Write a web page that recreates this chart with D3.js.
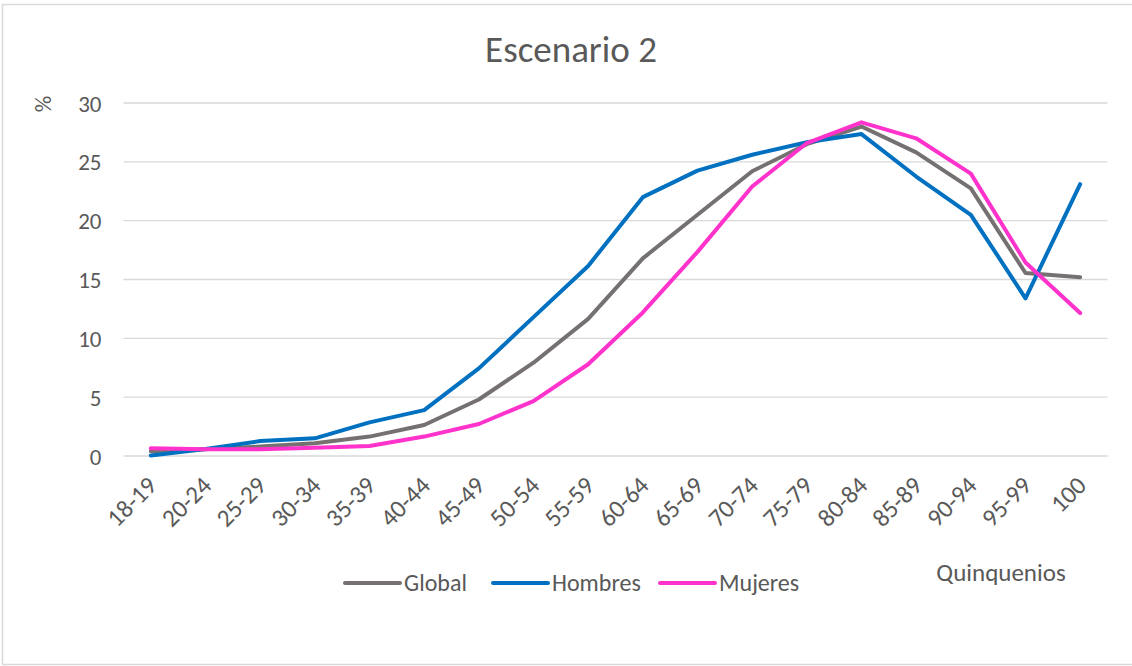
<!DOCTYPE html>
<html>
<head>
<meta charset="utf-8">
<script src="https://cdn.jsdelivr.net/npm/d3@7"></script>
<style>
  html, body { margin: 0; padding: 0; background: #fff; }
  svg text { font-family: Carlito, Calibri, Lato, "Open Sans", sans-serif; fill: #595959; }
</style>
</head>
<body>
<svg id="chart" width="1132" height="666"></svg>
<script>
// Age groups (quinquenios)
const categories = ["18-19","20-24","25-29","30-34","35-39","40-44","45-49","50-54","55-59",
  "60-64","65-69","70-74","75-79","80-84","85-89","90-94","95-99","100"];

// Percentages by group
const globalValues  = [0.4, 0.57, 0.8, 1.08, 1.65, 2.63, 4.8, 7.93, 11.65, 16.8, 20.5, 24.2, 26.5, 28.0, 25.8, 22.75, 15.55, 15.2];
const hombresValues = [0.05, 0.6, 1.27, 1.5, 2.86, 3.9, 7.45, 11.8, 16.15, 22.0, 24.25, 25.6, 26.66, 27.36, 23.75, 20.5, 13.4, 23.1];
const mujeresValues = [0.65, 0.57, 0.57, 0.71, 0.85, 1.65, 2.72, 4.67, 7.8, 12.2, 17.35, 22.9, 26.6, 28.36, 27.0, 24.0, 16.45, 12.15];

const yTicks = [0, 5, 10, 15, 20, 25, 30];

const series = [
  { name: "Global",  values: globalValues,  color: "#767171" },
  { name: "Hombres", values: hombresValues, color: "#0070C0" },
  { name: "Mujeres", values: mujeresValues, color: "#FF33CC" }
];

const svg = d3.select("#chart");
const W = 1132, H = 666;

// Outer frame
svg.append("rect")
  .attr("x", 2.5).attr("y", 4.5)
  .attr("width", W + 10).attr("height", 660)
  .attr("fill", "#fff").attr("stroke", "#d9d9d9").attr("stroke-width", 1.5);

const plot = { left: 123.5, right: 1107.5, top: 103, bottom: 456 };

const x = d3.scalePoint()
  .domain(categories)
  .range([plot.left, plot.right])
  .padding(0.5);

const y = d3.scaleLinear()
  .domain([0, 30])
  .range([plot.bottom, plot.top]);

// Gridlines
svg.append("g")
  .selectAll("line")
  .data(yTicks)
  .join("line")
  .attr("x1", plot.left).attr("x2", plot.right)
  .attr("y1", d => y(d)).attr("y2", d => y(d))
  .attr("stroke", "#d9d9d9").attr("stroke-width", 1.3);

// Y axis labels
const yAxis = d3.axisLeft(y).tickValues(yTicks).tickSize(0).tickPadding(0);
const gy = svg.append("g")
  .attr("transform", `translate(${plot.left - 22},0)`)
  .call(yAxis);
gy.select(".domain").remove();
gy.selectAll("text")
  .attr("font-size", 23)
  .attr("dy", "0.35em");

// Y axis unit
svg.append("text")
  .attr("transform", `translate(51,104) rotate(-90)`)
  .attr("text-anchor", "middle")
  .attr("font-size", 23)
  .text("%");

// X axis labels, rotated 45 degrees
const xAxis = d3.axisBottom(x).tickSize(0).tickPadding(0);
const gx = svg.append("g")
  .attr("transform", `translate(0,${plot.bottom})`)
  .call(xAxis);
gx.select(".domain").remove();
gx.selectAll("text")
  .attr("font-size", 25)
  .attr("text-anchor", "end")
  .attr("dy", null)
  .attr("y", 0)
  .attr("transform", "translate(7,31) rotate(-45)");

// Lines
const line = d3.line()
  .x((d, i) => x(categories[i]))
  .y(d => y(d));

svg.append("g")
  .selectAll("path")
  .data(series)
  .join("path")
  .attr("d", d => line(d.values))
  .attr("fill", "none")
  .attr("stroke", d => d.color)
  .attr("stroke-width", 4)
  .attr("stroke-linejoin", "round")
  .attr("stroke-linecap", "round");

// Title
svg.append("text")
  .attr("x", 571).attr("y", 62)
  .attr("text-anchor", "middle")
  .attr("font-size", 37)
  .text("Escenario 2");

// X axis title
svg.append("text")
  .attr("x", 1001).attr("y", 581)
  .attr("text-anchor", "middle")
  .attr("font-size", 25)
  .text("Quinquenios");

// Legend
const legendX = [345, 493, 660];
const lg = svg.append("g")
  .selectAll("g")
  .data(series)
  .join("g")
  .attr("transform", (d, i) => `translate(${legendX[i]},583)`);
lg.append("line")
  .attr("x1", 0).attr("x2", 55)
  .attr("stroke", d => d.color)
  .attr("stroke-width", 4)
  .attr("stroke-linecap", "round");
lg.append("text")
  .attr("x", 59)
  .attr("dy", "0.35em")
  .attr("font-size", 24)
  .text(d => d.name);
</script>
</body>
</html>
